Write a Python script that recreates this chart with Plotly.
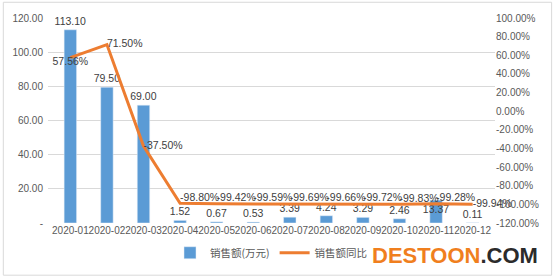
import plotly.graph_objects as go

months = ["2020-01", "2020-02", "2020-03", "2020-04", "2020-05", "2020-06",
          "2020-07", "2020-08", "2020-09", "2020-10", "2020-11", "2020-12"]
sales = [113.10, 79.50, 69.00, 1.52, 0.67, 0.53, 3.39, 4.24, 3.29, 2.46, 13.37, 0.11]
yoy = [57.56, 71.50, -37.50, -98.80, -99.42, -99.59, -99.69, -99.66, -99.72, -99.83, -99.28, -99.94]

left_ticks = [0, 20, 40, 60, 80, 100, 120]
left_text = ["-", "20.00", "40.00", "60.00", "80.00", "100.00", "120.00"]
right_ticks = [-120, -100, -80, -60, -40, -20, 0, 20, 40, 60, 80, 100]
right_text = [f"{v:.2f}%" for v in right_ticks]

yoy_pos = ["bottom center", "middle right", "middle right"] + ["top right"] * 8 + ["middle right"]
bar_pos = ["outside"] * 10 + ["inside", "outside"]

font_fam = "Liberation Sans, Noto Sans CJK SC, sans-serif"
cjk_fam = "Noto Sans CJK SC, sans-serif"
tick_col = "#595959"
label_col = "#404040"

fig = go.Figure()
fig.add_trace(go.Bar(
    x=months, y=sales, name="销售额(万元)",
    marker_color="#5B9BD5", width=0.34,
    text=[f"{v:.2f}" for v in sales], textposition=bar_pos,
    insidetextanchor="end", constraintext="none", textangle=0,
    textfont=dict(size=10.5, color=label_col, family=font_fam),
    insidetextfont=dict(size=10.5, color=label_col, family=font_fam),
    outsidetextfont=dict(size=10.5, color=label_col, family=font_fam),
    cliponaxis=False,
))
fig.add_trace(go.Scatter(
    x=months, y=yoy, name="销售额同比", yaxis="y2",
    mode="lines+text", line=dict(color="#ED7D31", width=3),
    text=[f"{v:.2f}%" for v in yoy], textposition=yoy_pos,
    textfont=dict(size=10.5, color=label_col, family=font_fam),
    cliponaxis=False,
))

fig.update_layout(
    width=553, height=279,
    margin=dict(l=45, r=58, t=17, b=54),
    paper_bgcolor="white", plot_bgcolor="white",
    font=dict(family=font_fam, size=10, color=tick_col),
    showlegend=True,
    legend=dict(orientation="h", x=0.5, xanchor="center", y=-0.145, yanchor="middle",
                font=dict(size=10.5, color=tick_col, family=cjk_fam), itemwidth=30),
    xaxis=dict(type="category", showgrid=False, ticks="", tickfont=dict(size=10, color=tick_col),
               showline=False, tickangle=0),
    yaxis=dict(range=[0, 120], tickvals=left_ticks, ticktext=left_text,
               showgrid=True, gridcolor="#D9D9D9", gridwidth=1, zeroline=False,
               tickfont=dict(size=10, color=tick_col), ticklabelstandoff=4),
    yaxis2=dict(range=[-120, 100], tickvals=right_ticks, ticktext=right_text,
                overlaying="y", side="right", showgrid=False, zeroline=False,
                tickfont=dict(size=10, color=tick_col)),
    shapes=[dict(type="rect", xref="paper", yref="paper", x0=-45/450, x1=(553-45-1)/450,
                 y0=-54/208 + 0.005, y1=1 + 17/208 - 0.005,
                 line=dict(color="#D9D9D9", width=1))],
    annotations=[dict(
        xref="paper", yref="paper", x=(540 - 45) / 450, y=(225 - 258) / 208,
        xanchor="right", yanchor="middle", showarrow=False,
        text="<b><span style='color:#F07F1E'>DESTOON</span><span style='color:#2B2B2B'>.COM</span></b>",
        font=dict(family="Liberation Sans, Arial, sans-serif", size=22),
    )],
)

fig.write_html("out.html")
